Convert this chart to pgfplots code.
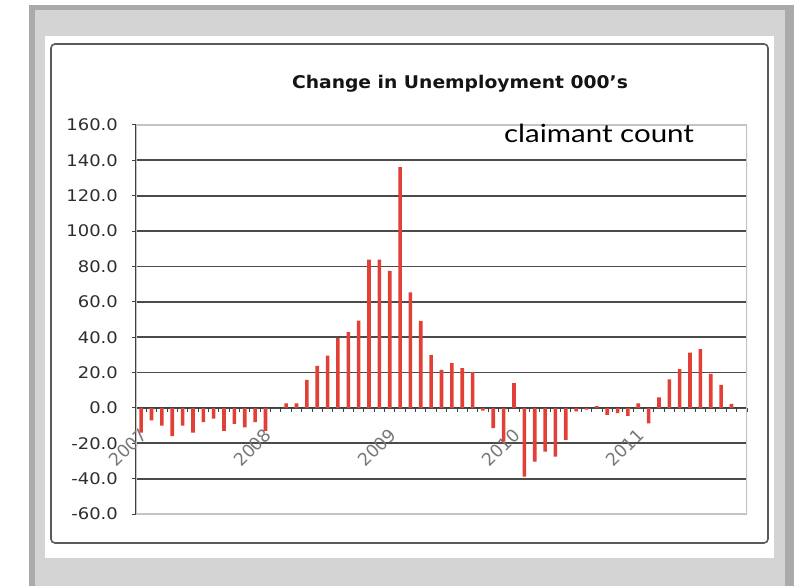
\documentclass[border=0pt]{standalone}
\usepackage{pgfplots}
\usepackage{pgfplotstable}
\pgfplotsset{compat=1.18}
\usepackage{fontspec}
\setmainfont{DejaVu Sans}
\newfontfamily\latofont{Lato}
\definecolor{outerborder}{RGB}{170,170,170}
\definecolor{outerfill}{RGB}{212,212,212}
\definecolor{framecol}{RGB}{90,90,90}
\definecolor{gridcol}{RGB}{75,75,75}
\definecolor{plotborder}{RGB}{195,195,195}
\definecolor{barred}{RGB}{226,64,54}
\definecolor{ticklab}{RGB}{45,45,45}
\definecolor{yearlab}{RGB}{120,120,120}

\pgfplotstableread{
i v
0 -14
1 -7
2 -10
3 -16
4 -10
5 -14
6 -8
7 -6
8 -13
9 -9
10 -11
11 -8
12 -13
13 0
14 2.6
15 2.6
16 15.8
17 23.8
18 29.6
19 39.4
20 42.8
21 49.4
22 83.8
23 83.8
24 77.5
25 136.2
26 65.3
27 49.2
28 30.0
29 21.5
30 25.3
31 22.5
32 20.2
33 -1.5
34 -11.5
35 -19
36 14
37 -38.9
38 -30.4
39 -24.7
40 -27.5
41 -18.1
42 -2
43 -1
44 1
45 -4
46 -3
47 -4.5
48 2.6
49 -8.7
50 6
51 16.2
52 22
53 31.3
54 33.2
55 19.2
56 13
57 2.3
58 0
}\datatable

\begin{document}
\begin{tikzpicture}[x=1pt,y=1pt]
\useasboundingbox (0,0) rectangle (794,586);
\fill[white] (0,0) rectangle (794,586);
\fill[outerborder] (29,0) rectangle (794,581);
\fill[outerfill] (35,0) rectangle (785,576);
\fill[white] (45,28) rectangle (774,550);
\draw[framecol, line width=1.6pt, rounded corners=4pt] (51,43) rectangle (768,542);
\begin{axis}[
  at={(136pt,72pt)}, anchor=south west,
  scale only axis, width=611pt, height=389pt,
  xmin=-0.5, xmax=58.5, ymin=-60, ymax=160,
  axis x line=middle, axis y line=left,
  axis line style={-},
  x axis line style={draw=black!75, line width=1pt},
  y axis line style={draw=black!75, line width=1.5pt},
  hide obscured x ticks=false, hide obscured y ticks=false,
  ytick={-60,-40,...,160},
  ymajorgrids, major grid style={draw=gridcol, line width=1.8pt},
  ytick align=outside, xtick align=outside,
  major tick length=4pt, minor tick length=4pt,
  tick style={draw=black!75, line width=1pt},
  yticklabel style={/pgf/number format/fixed, /pgf/number format/fixed zerofill, /pgf/number format/precision=1, /pgf/number format/assume math mode=true, font=\fontsize{16}{18}\selectfont, text=ticklab, inner sep=0pt, anchor=east, xshift=-14pt, xscale=1.12},
  xtick={0,12,24,36,48},
  xticklabels={2007,2008,2009,2010,2011},
  major x tick style={draw=none},
  minor xtick={-0.5,0.5,...,58.5},
  xticklabel style={yshift=-15pt, xshift=-2pt, rotate=45, anchor=north east, inner sep=0pt, font=\fontsize{17.5}{20}\selectfont, text=yearlab},
]
\draw[plotborder, line width=1.2pt] (rel axis cs:0,0) rectangle (rel axis cs:1,1);
\addplot[ybar, bar width=3.6pt, fill=barred, draw=none] table[x=i,y=v] {\datatable};
\end{axis}
\node[anchor=base, font=\fontsize{17.5}{20}\selectfont\bfseries, text={rgb,255:red,20;green,20;blue,20}, xscale=1.07] at (460,497) {Change in Unemployment 000's};
\node[anchor=base, font=\latofont\fontsize{25}{28}\selectfont, xscale=1.18] at (599,443) {claimant count};
\end{tikzpicture}
\end{document}
